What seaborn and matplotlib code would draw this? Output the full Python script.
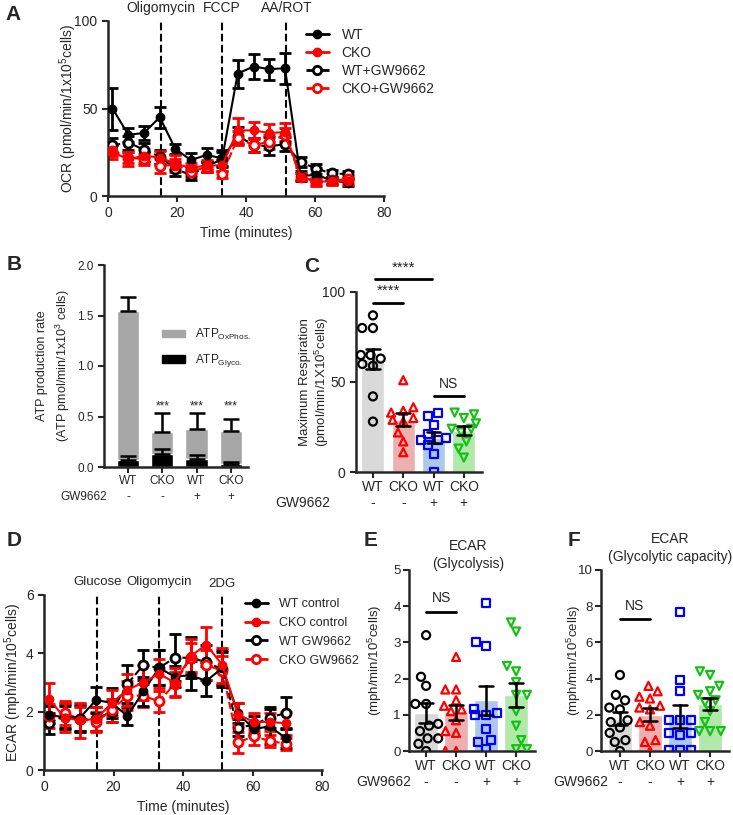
import numpy as np
import pandas as pd
import seaborn as sns
import matplotlib.pyplot as plt
import matplotlib.transforms as mtransforms
from matplotlib.lines import Line2D
from matplotlib.patches import Patch

# Seahorse measurement times (minutes)
time_min = [1.3, 5.9, 10.4, 15.0, 19.5, 24.0, 28.6, 33.1, 37.6, 42.2, 46.7, 51.3, 55.8, 60.4, 64.9, 69.5]

# A: OCR time course
ocr_wt = [50, 35, 36, 45, 27, 20.5, 23.5, 21.5, 70, 74, 72.5, 73, 11.5, 12, 9, 7.5]
ocr_wt_err = [12, 4, 4, 6, 3, 4, 4, 5, 8, 7, 6, 9, 3, 4, 2, 1.5]
ocr_cko = [25, 21, 23, 22, 18.5, 16, 17.5, 17.5, 37.5, 37.5, 36, 36.5, 11, 8, 8.5, 8.5]
ocr_cko_err = [4, 4, 4, 4, 5, 3, 3, 3, 7, 5, 5, 5, 2, 2, 2, 2]
ocr_wtgw = [29, 30.5, 26.5, 22.5, 15.5, 12, 17, 21, 34.5, 29, 28.5, 29.5, 19.5, 15.5, 13, 12.5]
ocr_wtgw_err = [4, 4, 4, 4, 4, 3, 3, 4, 5, 4, 5, 4, 3, 3, 2, 2]
ocr_ckogw = [26, 22, 21, 17, 18, 14, 16.5, 12.5, 33, 29, 31, 35, 11, 8.5, 9, 9.5]
ocr_ckogw_err = [3, 3, 3, 4, 3, 3, 3, 2, 4, 4, 4, 4, 2, 2, 2, 2]
ocr_inject = [15.3, 33.0, 51.7]
ocr_inject_names = ["Oligomycin", "FCCP", "AA/ROT"]

# B: ATP production rate
atp_ox = [1.54, 0.35, 0.38, 0.36]
atp_ox_err = [0.14, 0.18, 0.15, 0.12]
atp_gly = [0.07, 0.13, 0.08, 0.03]
atp_gly_err = [0.035, 0.05, 0.04, 0.02]

# C: maximum respiration (individual points)
maxresp_wt = [87, 80, 80, 65, 65, 63, 60, 59, 42, 28]
maxresp_cko = [51, 36, 34, 33, 30, 29, 28, 22, 17, 11]
maxresp_wtgw = [33, 31, 26, 21, 19, 18, 18, 15, 10, 0]
maxresp_ckogw = [33, 32, 30, 27, 24, 24, 22, 17, 13, 8]

# D: ECAR time course
ecar_wt = [1.9, 1.8, 1.8, 2.4, 2.3, 1.85, 2.7, 3.5, 3.2, 3.25, 3.05, 3.5, 1.95, 1.4, 1.5, 1.1]
ecar_wt_err = [0.3, 0.4, 0.45, 0.45, 0.5, 0.3, 0.5, 0.6, 0.35, 0.5, 0.5, 0.6, 0.35, 0.25, 0.6, 0.35]
ecar_cko = [2.45, 1.8, 1.7, 1.75, 2.3, 2.75, 3.0, 3.3, 3.0, 3.9, 4.3, 3.6, 1.9, 1.65, 1.65, 1.6]
ecar_cko_err = [0.55, 0.5, 0.6, 0.4, 0.45, 0.55, 0.6, 0.5, 0.5, 0.6, 0.6, 0.6, 0.4, 0.3, 0.3, 0.4]
ecar_wtgw = [1.6, 1.85, 1.75, 1.75, 2.0, 2.95, 3.6, 3.5, 3.85, 3.85, 3.7, 3.45, 1.45, 1.55, 1.8, 1.95]
ecar_wtgw_err = [0.35, 0.4, 0.45, 0.4, 0.35, 0.65, 0.5, 0.6, 0.8, 0.7, 0.6, 0.6, 0.3, 0.3, 0.35, 0.55]
ecar_ckogw = [1.85, 1.95, 1.75, 1.65, 2.05, 2.55, 2.55, 2.35, 2.95, 3.85, 3.6, 3.4, 0.95, 1.15, 1.0, 0.9]
ecar_ckogw_err = [0.4, 0.4, 0.4, 0.35, 0.4, 0.5, 0.4, 0.35, 0.4, 0.5, 0.5, 0.5, 0.35, 0.3, 0.2, 0.2]
ecar_inject = [15.3, 33.2, 51.2]
ecar_inject_names = ["Glucose", "Oligomycin", "2DG"]

# E: glycolysis
glyc_wt = [3.2, 2.05, 1.8, 1.3, 1.3, 0.75, 0.7, 0.55, 0.35, 0.35, 0.2, 0.0]
glyc_cko = [2.6, 1.7, 1.7, 1.4, 1.25, 1.15, 1.1, 0.85, 0.55, 0.5, 0.0, 0.0]
glyc_wtgw = [4.1, 3.0, 2.9, 1.15, 1.05, 1.0, 1.0, 0.6, 0.3, 0.25, 0.05]
glyc_ckogw = [3.55, 3.3, 2.35, 2.2, 1.9, 1.55, 1.55, 1.1, 0.7, 0.3, 0.05, 0.05]

# F: glycolytic capacity
gcap_wt = [4.2, 3.1, 2.8, 2.4, 2.3, 1.7, 1.6, 1.3, 1.0, 0.6, 0.5, 0.0]
gcap_cko = [3.6, 3.3, 3.0, 2.9, 2.5, 2.4, 2.3, 1.6, 1.4, 0.6, 0.5, 0.0]
gcap_wtgw = [7.7, 3.9, 3.3, 1.7, 1.7, 1.7, 1.0, 1.0, 0.9, 0.05, 0.05, 0.05]
gcap_ckogw = [4.4, 4.2, 3.6, 3.3, 3.1, 2.8, 2.7, 2.2, 1.6, 1.1, 1.1, 1.1]

groups = ["WT", "CKO", "WT+GW", "CKO+GW"]
group_ticks = ["WT", "CKO", "WT", "CKO"]
gw_signs = ["-", "-", "+", "+"]
bar_colors = ["#d9d9d9", "#f7a6a6", "#a3c7f5", "#a8f3a0"]
point_colors = ["#000000", "#ff0000", "#0000ff", "#17c017"]
point_markers = ["o", "^", "s", "v"]

sns.set_style("ticks")
plt.rcParams["font.family"] = ["Liberation Sans", "DejaVu Sans"]
plt.rcParams["mathtext.default"] = "regular"
plt.rcParams["axes.linewidth"] = 1.8
plt.rcParams["xtick.major.width"] = 1.5
plt.rcParams["ytick.major.width"] = 1.5
plt.rcParams["xtick.major.size"] = 4
plt.rcParams["ytick.major.size"] = 4
plt.rcParams["xtick.labelsize"] = 10
plt.rcParams["ytick.labelsize"] = 10
plt.rcParams["axes.labelsize"] = 10

W, H = 733, 815
fig = plt.figure(figsize=(W / 100, H / 100), dpi=100)


def add_ax(l, t, r, b):
    return fig.add_axes([l / W, 1 - b / H, (r - l) / W, (b - t) / H])


def ftext(x, y, s, **kw):
    fig.text(x / W, 1 - y / H, s, **kw)


def ylabel_at(ax, label, xpx, l, r, **kw):
    ax.set_ylabel(label, va="center", **kw)
    ax.yaxis.set_label_coords((xpx - l) / (r - l), 0.5)


def time_course(ax, series):
    handles = []
    for vals, errs, color, filled, label in series:
        ax.errorbar(time_min, vals, yerr=errs, fmt="none", ecolor=color,
                    elinewidth=2, capsize=4, capthick=2, zorder=2)
        sns.lineplot(x=time_min, y=vals, color=color, marker="o", errorbar=None,
                     markersize=6 if filled else 6.5,
                     markeredgecolor=color,
                     markerfacecolor=color if filled else "white",
                     markeredgewidth=1 if filled else 2,
                     linestyle="-" if filled else "--", linewidth=1.5,
                     zorder=3, ax=ax)
        handles.append(Line2D([], [], color=color, marker="o", markersize=6,
                              markeredgecolor=color,
                              markerfacecolor=color if filled else "white",
                              markeredgewidth=1 if filled else 2,
                              linestyle="-" if filled else "--", linewidth=2,
                              label=label))
    return handles


def gw_row(ax, y_axes, xpx_label, ypx_label, fontsize=10):
    trans = mtransforms.blended_transform_factory(ax.transData, ax.transAxes)
    for i, s in enumerate(gw_signs):
        ax.text(i, y_axes, s, transform=trans, ha="center", va="center",
                fontsize=fontsize, clip_on=False)
    ftext(xpx_label, ypx_label, "GW9662", ha="right", va="center", fontsize=fontsize)


def dot_bar(ax, values, width):
    df = pd.DataFrame({"group": np.repeat(groups, [len(v) for v in values]),
                       "value": np.concatenate(values)})
    sns.barplot(data=df, x="group", y="value", order=groups, hue="group",
                hue_order=groups, palette=bar_colors, legend=False,
                errorbar="se", capsize=0.45, width=width,
                err_kws={"color": "k", "linewidth": 1.8}, ax=ax)
    for ln in ax.lines:
        ln.set_zorder(6)
    for g, m, c in zip(groups, point_markers, point_colors):
        sub = df[df["group"] == g]
        n_before = len(ax.collections)
        sns.swarmplot(data=sub, x="group", y="value", order=groups, marker=m,
                      size=5.8, color=c, ax=ax)
        for pc in ax.collections[n_before:]:
            pc.set_facecolor("none")
            pc.set_edgecolor(c)
            pc.set_linewidth(1.6)
            pc.set_zorder(5)
    ax.set_xticks(range(4))
    ax.set_xticklabels(group_ticks)
    ax.tick_params(axis="x", pad=2)
    ax.set_xlabel("")
    sns.despine(ax=ax)


def sig_line(ax, x0, x1, y, text, ty, fontsize=10):
    ax.plot([x0, x1], [y, y], color="k", linewidth=2, clip_on=False)
    ax.text((x0 + x1) / 2, ty, text, ha="center", va="center",
            fontsize=fontsize, clip_on=False)


# ---------------- A ----------------
axA = add_ax(108, 21, 384, 196)
hA = time_course(axA, [
    (ocr_wtgw, ocr_wtgw_err, "k", False, "WT+GW9662"),
    (ocr_ckogw, ocr_ckogw_err, "#ff0000", False, "CKO+GW9662"),
    (ocr_wt, ocr_wt_err, "k", True, "WT"),
    (ocr_cko, ocr_cko_err, "#ff0000", True, "CKO"),
])
axA.set_xlim(0, 80)
axA.set_ylim(0, 100)
axA.set_xticks([0, 20, 40, 60, 80])
axA.set_yticks([0, 50, 100])
for x, name in zip(ocr_inject, ocr_inject_names):
    axA.axvline(x, color="k", linestyle="--", linewidth=1.5, zorder=1)
    axA.text(x, 107.5, name, ha="center", va="center", fontsize=10, clip_on=False)
axA.set_xlabel("Time (minutes)")
ylabel_at(axA, "OCR (pmol/min/1x10$^5$cells)", 68, 108, 384)
sns.despine(ax=axA)
axA.legend(handles=[hA[2], hA[3], hA[0], hA[1]], loc="upper left",
           bbox_to_anchor=(300 / W, 1 - 22 / H), bbox_transform=fig.transFigure,
           frameon=False, fontsize=10, handlelength=1.7, handletextpad=0.9,
           labelspacing=0.3, borderaxespad=0)

# ---------------- B ----------------
axB = add_ax(104, 265, 248, 467)
sns.barplot(x=groups, y=atp_ox, color="#a6a6a6", width=0.65, ax=axB)
axB.errorbar(range(4), atp_ox, yerr=[np.zeros(4), atp_ox_err], fmt="none",
             ecolor="k", elinewidth=1.8, capsize=6, capthick=1.8)
sns.barplot(x=groups, y=atp_gly, color="k", width=0.65, ax=axB)
axB.errorbar(range(4), atp_gly, yerr=[np.zeros(4), atp_gly_err], fmt="none",
             ecolor="k", elinewidth=1.8, capsize=6, capthick=1.8)
axB.set_xlim(-0.7, 3.5)
axB.set_ylim(0, 2)
axB.set_yticks([0, 0.5, 1.0, 1.5, 2.0])
axB.set_yticklabels(["0.0", "0.5", "1.0", "1.5", "2.0"], fontsize=8.5)
axB.set_xticks(range(4))
axB.set_xticklabels(group_ticks, fontsize=8.5)
axB.tick_params(axis="x", pad=1.5)
for i in range(1, 4):
    axB.text(i, 0.6, "***", ha="center", va="center", fontsize=8.5)
ylabel_at(axB, "ATP production rate\n(ATP pmol/min/1x10$^3$ cells)", 54, 104, 248,
          fontsize=9, linespacing=1.5)
sns.despine(ax=axB)
axB.legend(handles=[Patch(color="#a6a6a6", label="ATP$_{OxPhos.}$"),
                    Patch(color="k", label="ATP$_{Glyco.}$")],
           loc="upper left", bbox_to_anchor=(157 / W, 1 - 322 / H),
           bbox_transform=fig.transFigure, frameon=False, fontsize=8.5,
           handlelength=2.0, handleheight=0.6, handletextpad=0.8,
           labelspacing=0.9, borderaxespad=0)
gw_row(axB, -0.147, 107, 497, fontsize=8.5)

# ---------------- C ----------------
axC = add_ax(356, 292, 482, 472)
dot_bar(axC, [maxresp_wt, maxresp_cko, maxresp_wtgw, maxresp_ckogw], 0.76)
axC.set_xlim(-0.56, 3.6)
axC.set_ylim(0, 100)
axC.set_yticks([0, 50, 100])
ylabel_at(axC, "Maximum Respiration\n(pmol/min/1X10$^5$cells)", 315, 356, 482,
          fontsize=9.5)
sig_line(axC, 0, 1, 94, "****", 100.5, fontsize=11)
sig_line(axC, 0.08, 1.95, 107, "****", 113.5, fontsize=11)
sig_line(axC, 2, 3, 42, "NS", 49)
gw_row(axC, -0.17, 330, 503)

# ---------------- D ----------------
axD = add_ax(44, 595, 322, 770)
hD = time_course(axD, [
    (ecar_wtgw, ecar_wtgw_err, "k", False, "WT GW9662"),
    (ecar_ckogw, ecar_ckogw_err, "#ff0000", False, "CKO GW9662"),
    (ecar_wt, ecar_wt_err, "k", True, "WT control"),
    (ecar_cko, ecar_cko_err, "#ff0000", True, "CKO control"),
])
axD.set_xlim(0, 80)
axD.set_ylim(0, 6)
axD.set_xticks([0, 20, 40, 60, 80])
axD.set_yticks([0, 2, 4, 6])
for x, name, ty in zip(ecar_inject, ecar_inject_names, [6.45, 6.45, 6.37]):
    axD.axvline(x, color="k", linestyle="--", linewidth=1.5, zorder=1)
    axD.text(x, ty, name, ha="center", va="center", fontsize=9.5, clip_on=False)
axD.set_xlabel("Time (minutes)")
ylabel_at(axD, "ECAR (mph/min/10$^5$cells)", 13, 44, 322)
sns.despine(ax=axD)
axD.legend(handles=[hD[2], hD[3], hD[0], hD[1]], loc="upper left",
           bbox_to_anchor=(240 / W, 1 - 593 / H), bbox_transform=fig.transFigure,
           frameon=False, fontsize=9, handlelength=1.8, handletextpad=0.9,
           labelspacing=0.55, borderaxespad=0)

# ---------------- E ----------------
axE = add_ax(409, 570, 535, 751)
dot_bar(axE, [glyc_wt, glyc_cko, glyc_wtgw, glyc_ckogw], 0.8)
axE.set_xlim(-0.57, 3.63)
axE.set_ylim(0, 5)
axE.set_yticks([0, 1, 2, 3, 4, 5])
axE.tick_params(axis="y", labelsize=9.5, pad=2)
ylabel_at(axE, "(mph/min/10$^5$cells)", 375, 409, 535, fontsize=9.5)
sig_line(axE, 0, 1, 3.85, "NS", 4.22)
ftext(468, 555, "ECAR\n(Glycolysis)", ha="center", va="center", fontsize=10,
      linespacing=1.3)
gw_row(axE, -0.172, 411, 782)

# ---------------- F ----------------
axF = add_ax(601, 570, 729, 751)
dot_bar(axF, [gcap_wt, gcap_cko, gcap_wtgw, gcap_ckogw], 0.78)
axF.set_xlim(-0.63, 3.63)
axF.set_ylim(0, 10)
axF.set_yticks([0, 2, 4, 6, 8, 10])
axF.tick_params(axis="y", labelsize=9.5, pad=2)
ylabel_at(axF, "(mph/min/10$^5$cells)", 574, 601, 729, fontsize=9.5)
sig_line(axF, 0, 1, 7.27, "NS", 8.0)
ftext(670, 548, "ECAR\n(Glycolytic capacity)", ha="center", va="center",
      fontsize=10, linespacing=1.3)
gw_row(axF, -0.172, 608, 782)

# panel letters
for letter, x, y in [("A", 13, 15), ("B", 14, 264), ("C", 312, 266),
                     ("D", 14, 540), ("E", 371, 540), ("F", 574, 540)]:
    ftext(x, y, letter, ha="center", va="center", fontsize=15, fontweight="bold")

fig.savefig("out.png", dpi=100)
